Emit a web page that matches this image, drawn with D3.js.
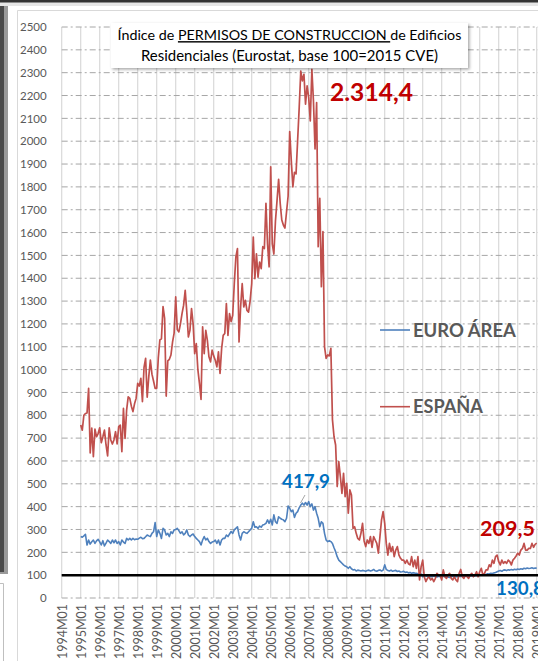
<!DOCTYPE html>
<html>
<head>
<meta charset="utf-8">
<script src="https://cdn.jsdelivr.net/npm/d3@7"></script>
<style>
  html, body { margin: 0; padding: 0; background: #fff; }
  svg { display: block; font-family: Lato, "Open Sans", sans-serif; }
</style>
</head>
<body>
<div id="chart"></div>
<script>
// Monthly index, base 100 = 2015. Both series start at 1995M01.
const tickLabels = ['1994M01','1995M01','1996M01','1997M01','1998M01','1999M01','2000M01','2001M01',
  '2002M01','2003M01','2004M01','2005M01','2006M01','2007M01','2008M01','2009M01','2010M01','2011M01',
  '2012M01','2013M01','2014M01','2015M01','2016M01','2017M01','2018M01','2019M01'];
const yTicks = [0,100,200,300,400,500,600,700,800,900,1000,1100,1200,1300,1400,1500,1600,1700,1800,1900,
  2000,2100,2200,2300,2400,2500];
const seriesStart = 12; // months after 1994M01

const espana = [
  757, 735, 800, 808, 810, 918, 635, 744, 619, 739, 706, 720,          // 1995
  745, 680, 706, 735, 670, 622, 745, 692, 674, 692, 728, 675,          // 1996
  750, 757, 641, 830, 699, 823, 881, 874, 840, 816, 850, 874,          // 1997
  940, 928, 962, 860, 1010, 1049, 879, 969, 1042, 980, 950, 918,       // 1998
  918, 1050, 1130, 1135, 1276, 1224, 884, 1038, 1045, 1064, 1120, 1160,// 1999
  1318, 1175, 1165, 1200, 1245, 1282, 1347, 1253, 1143, 1172, 1267, 1200, // 2000
  1070, 1114, 1000, 940, 869, 1187, 1070, 1172, 1128, 1056, 1034, 1085,   // 2001
  1060, 1041, 1012, 1078, 983, 1092, 1150, 1158, 1289, 1150, 1245, 1210,  // 2002
  1238, 1376, 1493, 1530, 1121, 1274, 1376, 1274, 1303, 1259, 1252, 1300, // 2003
  1376, 1580, 1398, 1507, 1405, 1471, 1442, 1538, 1530, 1728, 1550, 1450, // 2004
  1888, 1550, 1506, 1650, 1740, 1833, 1728, 1655, 1633, 1620, 1690, 1760, // 2005
  2042, 1915, 1800, 1864, 1857, 2002, 2147, 2307, 2264, 2293, 2162, 2242, // 2006
  2191, 2089, 2314.4, 2176, 1966, 2169, 1538, 1750, 1363, 1604, 1100, 1049, // 2007
  1064, 1060, 1093, 781, 706, 670, 488, 597, 531, 458, 546, 444,       // 2008
  502, 371, 473, 451, 305, 312, 283, 261, 254, 283, 327, 250,          // 2009
  225, 254, 239, 269, 222, 269, 254, 239, 196, 269, 342, 378,          // 2010
  327, 239, 188, 239, 203, 225, 181, 210, 225, 188, 174, 166,          // 2011
  166, 152, 166, 150, 145, 181, 137, 166, 130, 181, 79, 137,           // 2012
  166, 93, 72, 86, 93, 79, 86, 72, 86, 108, 100, 100,                  // 2013
  79, 123, 93, 86, 100, 108, 86, 79, 93, 79, 72, 108,                  // 2014
  125, 93, 86, 100, 93, 86, 100, 108, 93, 100, 115, 93,                // 2015
  115, 130, 100, 108, 123, 123, 145, 137, 166, 152, 181, 188,          // 2016
  159, 145, 166, 152, 159, 152, 166, 159, 145, 166, 174, 184,          // 2017
  196, 188, 210, 217, 239, 210, 210, 217, 217, 239, 222, 235,          // 2018
  240                                                                   // 2019
];

const euroArea = [
  269, 266, 272, 279, 232, 254, 236, 246, 254, 239, 250, 257,          // 1995
  246, 232, 251, 228, 240, 254, 247, 239, 254, 242, 254, 239,          // 1996
  247, 232, 254, 245, 239, 261, 254, 261, 254, 261, 255, 258,          // 1997
  257, 262, 266, 260, 261, 268, 276, 272, 269, 283, 290, 330,          // 1998
  269, 298, 283, 261, 305, 298, 276, 283, 269, 290, 283, 298,          // 1999
  300, 305, 295, 283, 290, 276, 283, 298, 276, 269, 276, 280,          // 2000
  269, 261, 254, 247, 232, 254, 269, 254, 261, 247, 239, 245,          // 2001
  247, 254, 239, 254, 232, 254, 261, 261, 276, 269, 280, 291,          // 2002
  283, 298, 305, 312, 276, 254, 283, 290, 286, 283, 290, 298,          // 2003
  305, 334, 310, 312, 305, 315, 310, 320, 322, 327, 342, 327,          // 2004
  345, 320, 364, 334, 327, 356, 349, 345, 342, 334, 349, 403,          // 2005
  393, 378, 385, 353, 371, 378, 395, 407, 415, 407, 417.9, 407,        // 2006
  422, 400, 412, 385, 400, 371, 349, 312, 334, 327, 283, 254,          // 2007
  247, 251, 247, 239, 220, 203, 181, 166, 159, 152, 145, 140,          // 2008
  137, 130, 137, 128, 123, 125, 118, 122, 120, 118, 121, 119,          // 2009
  117, 120, 122, 118, 120, 125, 119, 117, 121, 123, 118, 122,          // 2010
  145, 125, 120, 118, 122, 117, 119, 121, 116, 118, 114, 115,          // 2011
  117, 112, 114, 110, 112, 108, 111, 109, 108, 106, 104, 105,          // 2012
  93, 98, 96, 95, 92, 94, 93, 96, 94, 92, 95, 93,                      // 2013
  92, 95, 93, 94, 92, 90, 93, 95, 92, 94, 93, 95,                      // 2014
  94, 96, 93, 95, 97, 94, 96, 98, 95, 97, 99, 98,                      // 2015
  100, 102, 101, 104, 103, 106, 105, 108, 107, 110, 112, 115,          // 2016
  118, 120, 117, 122, 123, 120, 124, 122, 125, 123, 126, 124,          // 2017
  127, 125, 128, 126, 130, 128, 131, 129, 130, 132, 129, 131,          // 2018
  130.8                                                                 // 2019
];

const W = 538, H = 661;
const RED = '#c0504d', BLUE = '#4f81bd';

const svg = d3.select('#chart')
  .append('svg')
  .attr('width', W)
  .attr('height', H);

const defs = svg.append('defs');
defs.append('filter')
  .attr('id', 'shadow')
  .attr('x', '-10%').attr('y', '-20%').attr('width', '120%').attr('height', '150%')
  .append('feDropShadow')
  .attr('dx', 1.5).attr('dy', 1.5).attr('stdDeviation', 1.5)
  .attr('flood-color', '#000').attr('flood-opacity', 0.35);

// Window frame remains around the chart (cropped screenshot)
svg.append('rect').attr('x', 0).attr('y', 0).attr('width', W).attr('height', 6).attr('fill', '#e6e6e6');
svg.append('rect').attr('x', 0).attr('y', 0).attr('width', W).attr('height', 2.5).attr('fill', '#333');
svg.append('rect').attr('x', 0).attr('y', 6).attr('width', 8).attr('height', 568).attr('fill', '#9a9a9a');
svg.append('rect').attr('x', 0).attr('y', 6).attr('width', 4).attr('height', 566).attr('fill', '#4a4a4a');
svg.append('path').attr('d', 'M0,583.5H3.5V661').attr('fill', 'none').attr('stroke', '#bfbfbf');

// chart area border
svg.append('path').attr('d', 'M17.5,661V10.5H538').attr('fill', 'none').attr('stroke', '#d9d9d9');

const x = d3.scaleLinear().domain([0, 300]).range([61.7, 536.7]);
const y = d3.scaleLinear().domain([0, 2500]).range([598, 27]);
const tickMonths = tickLabels.map((d, i) => i * 12);

// vertical gridlines
svg.append('g')
  .selectAll('line')
  .data(tickMonths)
  .enter()
  .append('line')
  .attr('x1', d => x(d)).attr('x2', d => x(d))
  .attr('y1', y(2500)).attr('y2', y(0))
  .attr('stroke', '#d9d9d9')
  .attr('stroke-width', 1.2);

// horizontal gridlines
svg.append('g')
  .selectAll('line')
  .data(yTicks)
  .enter()
  .append('line')
  .attr('x1', x(0)).attr('x2', W)
  .attr('y1', d => y(d)).attr('y2', d => y(d))
  .attr('stroke', '#a6a6a6')
  .attr('stroke-width', 1)
  .attr('stroke-dasharray', '6,3,2,3');

// y axis labels
const yAxis = svg.append('g')
  .attr('transform', `translate(${x(0)},0)`)
  .call(d3.axisLeft(y).tickValues(yTicks).tickSize(0).tickPadding(15).tickFormat(d3.format('d')));
yAxis.select('.domain').remove();
yAxis.selectAll('text')
  .attr('fill', '#595959')
  .style('font-size', '11.5px')
  .style('font-family', 'Lato, sans-serif');

// x axis labels (rotated)
const xAxis = svg.append('g')
  .attr('transform', `translate(0,${y(0)})`)
  .call(d3.axisBottom(x).tickValues(tickMonths).tickSize(0).tickFormat((d, i) => tickLabels[i]));
xAxis.select('.domain').remove();
xAxis.selectAll('text')
  .attr('fill', '#595959')
  .style('font-size', '12.5px')
  .style('font-family', 'Lato, sans-serif')
  .attr('text-anchor', 'end')
  .attr('transform', 'rotate(-90)')
  .attr('x', -6)
  .attr('y', 0)
  .attr('dy', '0.35em');

// series
const line = d3.line()
  .x((d, i) => x(seriesStart + i))
  .y(d => y(d));

svg.append('path')
  .datum(euroArea)
  .attr('d', line)
  .attr('fill', 'none')
  .attr('stroke', BLUE)
  .attr('stroke-width', 1.6)
  .attr('stroke-linejoin', 'round');

svg.append('path')
  .datum(espana)
  .attr('d', line)
  .attr('fill', 'none')
  .attr('stroke', RED)
  .attr('stroke-width', 1.7)
  .attr('stroke-linejoin', 'round');

// base 100 line
svg.append('line')
  .attr('x1', x(0)).attr('x2', W)
  .attr('y1', y(100)).attr('y2', y(100))
  .attr('stroke', '#000')
  .attr('stroke-width', 2.5);

// fit a text element to a target width by adjusting font size
function fitText(sel, width) {
  const fs = parseFloat(sel.style('font-size'));
  const len = sel.node().getComputedTextLength();
  sel.style('font-size', (fs * width / len).toFixed(2) + 'px');
  return sel;
}

// legend
const legendItems = [
  { label: 'EURO ÁREA', color: BLUE, cy: 330, w: 103 },
  { label: 'ESPAÑA', color: RED, cy: 406.7, w: 70 }
];
legendItems.forEach(item => {
  svg.append('line')
    .attr('x1', 380).attr('x2', 410)
    .attr('y1', item.cy).attr('y2', item.cy)
    .attr('stroke', item.color)
    .attr('stroke-width', 1.6);
  const t = svg.append('text')
    .attr('x', 413).attr('y', item.cy).attr('dy', '0.36em')
    .attr('fill', '#595959')
    .style('font-size', '16px')
    .style('font-weight', 'bold')
    .text(item.label);
  fitText(t, item.w);
});

// value annotations
const notes = [
  { text: '2.314,4', color: '#c00000', x: 330, cy: 92, w: 83 },
  { text: '417,9', color: '#0070c0', x: 282, cy: 481, w: 48 },
  { text: '209,5', color: '#c00000', x: 480, cy: 528, w: 55 },
  { text: '130,8', color: '#0070c0', x: 496, cy: 588, w: 48 }
];
notes.forEach(n => {
  const t = svg.append('text')
    .attr('x', n.x).attr('y', n.cy).attr('dy', '0.36em')
    .attr('fill', n.color)
    .style('font-size', '18px')
    .style('font-weight', 'bold')
    .text(n.text);
  fitText(t, n.w);
});
svg.append('line')
  .attr('x1', 305).attr('y1', 495)
  .attr('x2', 300.5).attr('y2', 503)
  .attr('stroke', '#a6a6a6')
  .attr('stroke-width', 1);

// title box
svg.append('rect')
  .attr('x', 111).attr('y', 23)
  .attr('width', 357).attr('height', 45)
  .attr('fill', '#fff')
  .attr('filter', 'url(#shadow)');

const title1 = svg.append('text')
  .attr('x', 289.5).attr('y', 35).attr('dy', '0.36em')
  .attr('text-anchor', 'middle')
  .attr('fill', '#000')
  .style('font-size', '13px');
title1.append('tspan').text('Índice de ');
title1.append('tspan').style('text-decoration', 'underline').text('PERMISOS DE CONSTRUCCION ');
title1.append('tspan').text('de Edificios');
fitText(title1, 344);

const title2 = svg.append('text')
  .attr('x', 289.5).attr('y', 56).attr('dy', '0.36em')
  .attr('text-anchor', 'middle')
  .attr('fill', '#000')
  .style('font-size', '13px')
  .text('Residenciales (Eurostat, base 100=2015 CVE)');
fitText(title2, 297);
</script>
</body>
</html>
